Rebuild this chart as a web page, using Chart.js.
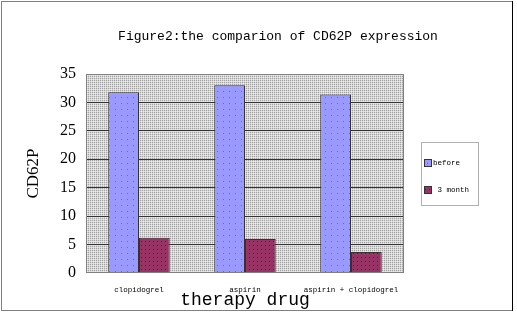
<!DOCTYPE html>
<html>
<head>
<meta charset="utf-8">
<script src="https://cdn.jsdelivr.net/npm/chart.js@4/dist/chart.umd.min.js"></script>
<style>
html,body{margin:0;padding:0;background:#fff;}
#wrap{width:517px;height:316px;position:relative;}
</style>
</head>
<body>
<div id="wrap"><canvas id="c" width="517" height="316"></canvas></div>
<script>
const chartTitle = "Figure2:the comparion of CD62P expression";
const categories = ["clopidogrel", "aspirin", "aspirin + clopidogrel"];
const seriesNames = ["before", "3 month"];
const beforeValues = [31.8, 33.0, 31.4];
const month3Values = [6.2, 6.0, 3.7];
const yTicks = [0, 5, 10, 15, 20, 25, 30, 35];
const xTitle = "therapy drug";
const yTitle = "CD62P";

function dotPattern(base, dot, size) {
  const c = document.createElement('canvas');
  c.width = size; c.height = size;
  const g = c.getContext('2d');
  g.fillStyle = base; g.fillRect(0, 0, size, size);
  g.fillStyle = dot; g.fillRect(1, 1, 1, 1);
  return g.createPattern(c, 'repeat');
}
function bgPattern() {
  const c = document.createElement('canvas');
  c.width = 2; c.height = 2;
  const g = c.getContext('2d');
  g.fillStyle = '#d6d6d6'; g.fillRect(0, 0, 2, 2);
  g.fillStyle = '#a4a4a4'; g.fillRect(0, 0, 1, 1);
  g.fillStyle = '#ececec'; g.fillRect(1, 1, 1, 1);
  return g.createPattern(c, 'repeat');
}

const fills = [dotPattern('#9999ff', '#6666cc', 6), dotPattern('#993366', '#5a1a3a', 4)];

const decor = {
  id: 'decor',
  beforeDraw(chart) {
    const {ctx, chartArea: a} = chart;
    ctx.save();
    ctx.fillStyle = bgPattern();
    ctx.fillRect(a.left, a.top, a.right - a.left, a.bottom - a.top);
    ctx.restore();
  },
  afterDraw(chart) {
    const {ctx, chartArea: a} = chart;
    ctx.save();
    // plot border
    ctx.strokeStyle = '#808080';
    ctx.lineWidth = 1;
    ctx.strokeRect(a.left + 0.5, a.top + 0.5, a.right - a.left - 1, a.bottom - a.top - 1);
    // title
    ctx.fillStyle = '#000';
    ctx.font = '13px "Liberation Mono", monospace';
    ctx.textAlign = 'center';
    ctx.textBaseline = 'middle';
    ctx.fillText(chartTitle, 278, 37);
    // legend
    const lx = 421, ly = 142, lw = 57, lh = 63;
    ctx.setLineDash([1, 1]);
    ctx.strokeStyle = '#606060';
    ctx.strokeRect(lx + 0.5, ly + 0.5, lw, lh);
    ctx.setLineDash([]);
    chart.data.datasets.forEach((ds, i) => {
      const cy = 163 + i * 27;
      ctx.fillStyle = ds.backgroundColor;
      ctx.fillRect(424, cy - 4, 8, 8);
      ctx.strokeStyle = '#333';
      ctx.strokeRect(424.5, cy - 3.5, 7, 7);
      ctx.fillStyle = '#000';
      ctx.font = '7.5px "Liberation Mono", monospace';
      ctx.textAlign = 'left';
      ctx.fillText((i > 0 ? ' ' : '') + ds.label, 433, cy);
    });
    // outer frame
    ctx.strokeStyle = '#000';
    ctx.setLineDash([1, 1]);
    ctx.strokeRect(1.5, 1.5, 511, 309);
    ctx.setLineDash([]);
    ctx.beginPath(); ctx.moveTo(512.5, 1); ctx.lineTo(512.5, 311); ctx.stroke();
    ctx.restore();
  }
};

new Chart(document.getElementById('c'), {
  type: 'bar',
  data: {
    labels: categories,
    datasets: [
      {label: seriesNames[0], data: beforeValues, backgroundColor: fills[0], borderColor: '#333', borderWidth: 1, borderSkipped: 'bottom'},
      {label: seriesNames[1], data: month3Values, backgroundColor: fills[1], borderColor: '#333', borderWidth: 1, borderSkipped: 'bottom'}
    ]
  },
  options: {
    responsive: false,
    animation: false,
    devicePixelRatio: 1,
    layout: {padding: {top: 74, right: 113, left: 0, bottom: 0}},
    categoryPercentage: 0.58,
    barPercentage: 1.0,
    plugins: {legend: {display: false}, title: {display: false}, tooltip: {enabled: false}},
    scales: {
      x: {
        grid: {display: false},
        border: {display: false},
        ticks: {padding: 5, color: '#000', font: {family: '"Liberation Mono", monospace', size: 7.5}, maxRotation: 0, autoSkip: false},
        title: {display: true, text: xTitle, color: '#000', font: {family: '"Liberation Mono", monospace', size: 18}, padding: {top: 0, bottom: 5}},
        afterFit(s) { s.height = 43; }
      },
      y: {
        min: 0, max: 35,
        afterBuildTicks(s) { s.ticks = yTicks.map(v => ({value: v})); },
        grid: {
          drawTicks: false,
          color: c => (c.tick && (c.tick.value === 0 || c.tick.value === 35)) ? 'rgba(0,0,0,0)' : '#333',
          lineWidth: 1
        },
        border: {display: false},
        ticks: {padding: 10, color: '#000', font: {family: '"Liberation Serif", serif', size: 16}},
        title: {display: true, text: yTitle, color: '#000', font: {family: '"Liberation Serif", serif', size: 17}, padding: {top: 23, bottom: 0}},
        afterFit(s) { s.width = 86; }
      }
    }
  },
  plugins: [decor]
});
</script>
</body>
</html>
